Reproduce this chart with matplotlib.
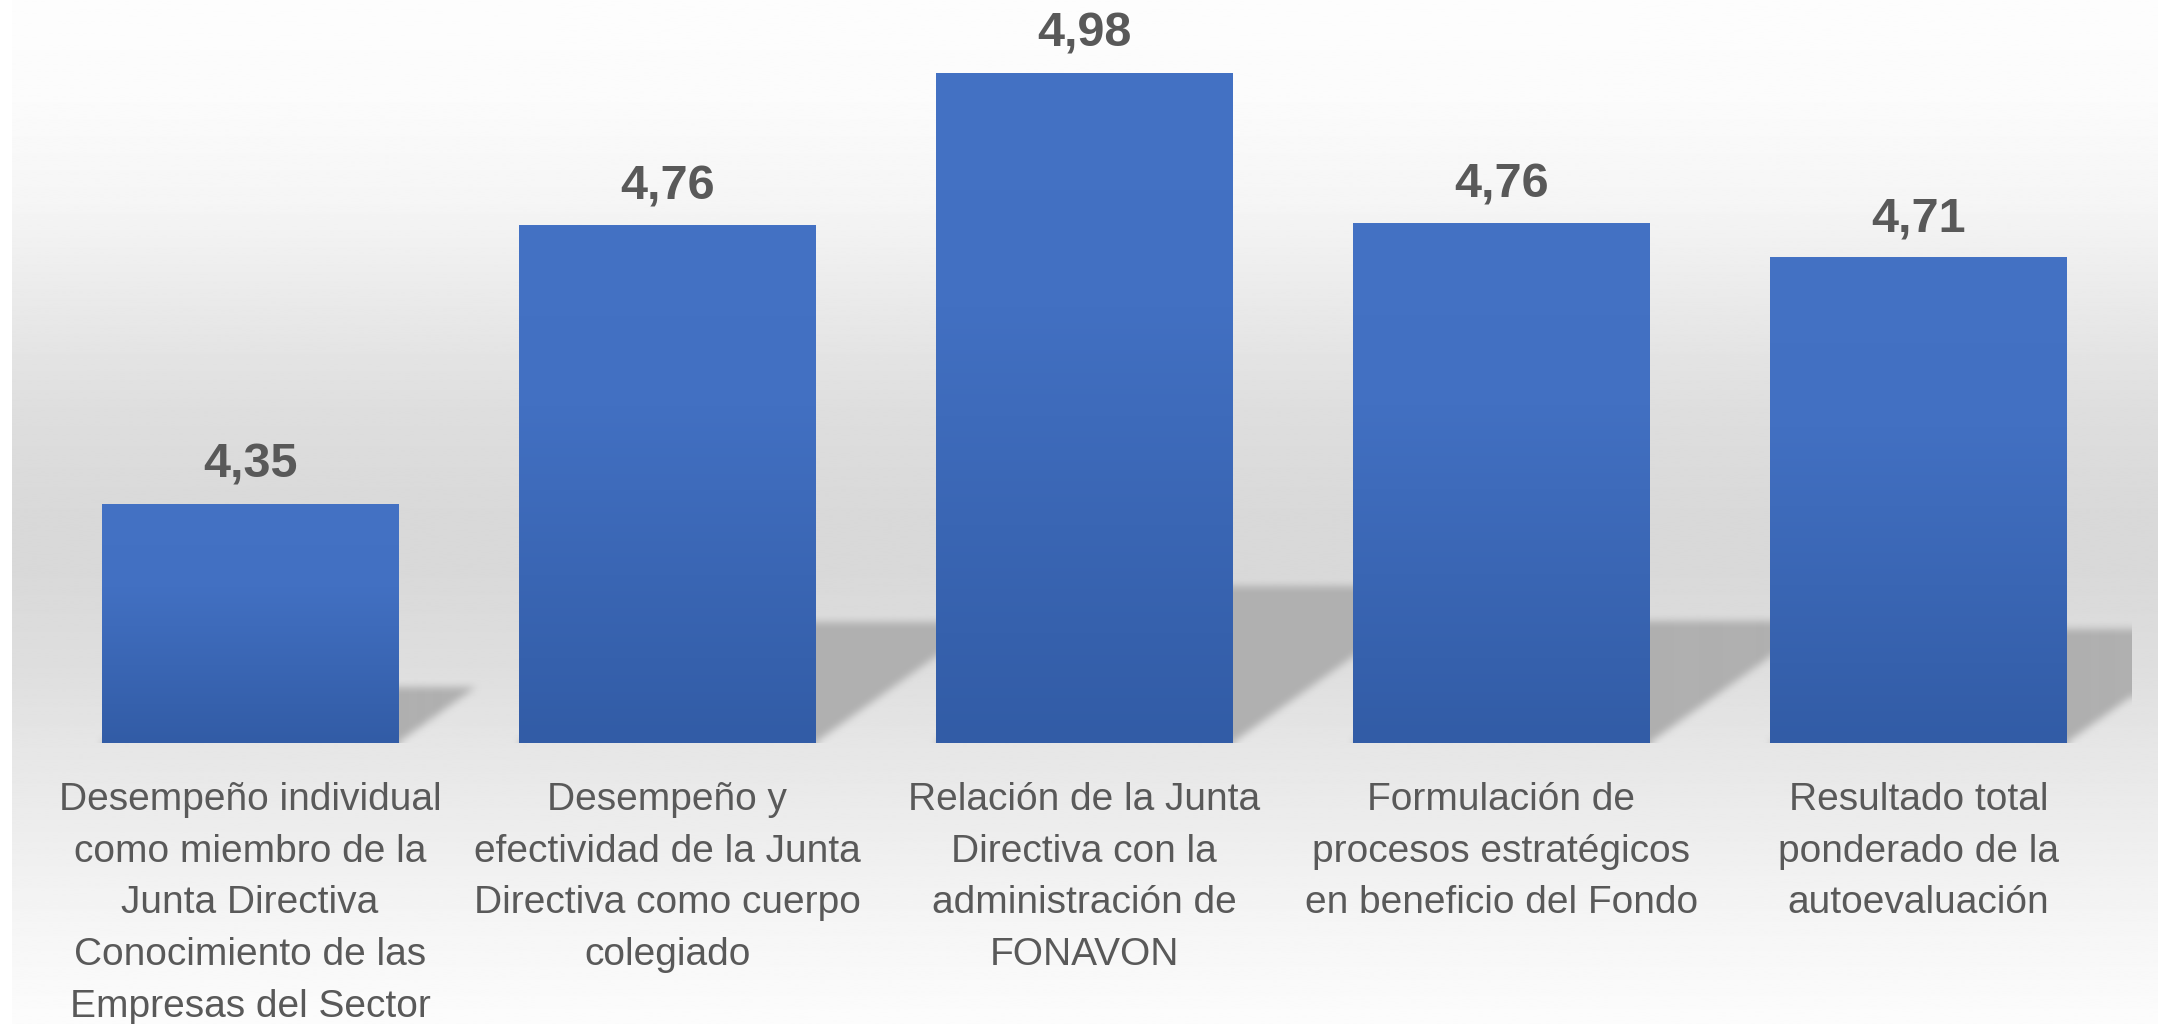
import numpy as np
import matplotlib.pyplot as plt
from matplotlib.colors import LinearSegmentedColormap

categories = [
    "Desempeño individual\ncomo miembro de la\nJunta Directiva\nConocimiento de las\nEmpresas del Sector",
    "Desempeño y\nefectividad de la Junta\nDirectiva como cuerpo\ncolegiado",
    "Relación de la Junta\nDirectiva con la\nadministración de\nFONAVON",
    "Formulación de\nprocesos estratégicos\nen beneficio del Fondo",
    "Resultado total\nponderado de la\nautoevaluación",
]
values = [4.35, 4.757, 4.98, 4.76, 4.71]

W, H = 2167, 1024
fig = plt.figure(figsize=(W / 100, H / 100), dpi=100)
fig.patch.set_facecolor('white')

# fondo degradado (blanco -> gris -> blanco)
bg = fig.add_axes([12 / W, 0, (2158 - 12) / W, 1])
pos = [0.0, 0.1, 0.2, 0.3, 0.4, 0.5, 0.56, 0.65, 0.73, 0.8, 0.9, 1.0]
lev = [253, 251, 245, 233, 222, 217, 217, 222, 230, 236, 245, 252]
g = np.interp(np.linspace(0, 1, 600), pos, lev)
bg.imshow(np.repeat(g[:, None], 2, axis=1), cmap='gray', vmin=0, vmax=255,
          aspect='auto', extent=[0, 1, 0, 1], interpolation='bilinear')
bg.axis('off')

ax_l, ax_r, ax_b = 41.5, 2131, 743
ax = fig.add_axes([ax_l / W, 1 - ax_b / H, (ax_r - ax_l) / W, ax_b / H])
ax.set_xlim(-0.5, 4.51)
ax.set_ylim(4, 4 + ax_b / 684)
ax.axis('off')

x = np.arange(len(values))
bw = 0.71

# sombras en perspectiva (raster difuminado)
wpx, hpx = int(ax_r - ax_l), ax_b
mask = np.zeros((hpx, wpx))
xmin, xmax = ax.get_xlim()
ymin, ymax = ax.get_ylim()
for xi, v in zip(x, values):
    xl = (xi - bw / 2 - xmin) / (xmax - xmin) * wpx
    xr = (xi + bw / 2 - xmin) / (xmax - xmin) * wpx
    hb = (v - ymin) / (ymax - ymin) * hpx
    sh = int(0.235 * hb)
    for r in range(sh):
        a, b = int(xl + 1.4 * r), int(min(xr + 1.4 * r, wpx))
        mask[r, a:b] = 1


def box(m, k, axis):
    c = np.cumsum(np.pad(m, [(k, k), (0, 0)] if axis == 0 else [(0, 0), (k, k)], mode='edge'), axis=axis)
    if axis == 0:
        c = np.vstack([np.zeros((1, c.shape[1])), c])
        return (c[2 * k + 1:] - c[:-2 * k - 1]) / (2 * k + 1)
    c = np.hstack([np.zeros((c.shape[0], 1)), c])
    return (c[:, 2 * k + 1:] - c[:, :-2 * k - 1]) / (2 * k + 1)


for _ in range(2):
    mask = box(mask, 4, 0)
    mask = box(mask, 4, 1)
rgba = np.zeros((hpx, wpx, 4))
rgba[..., :3] = 176 / 255
rgba[..., 3] = mask
ax.imshow(rgba, origin='lower', extent=[xmin, xmax, ymin, ymax], aspect='auto', zorder=1)

# barras con degradado
cmap = LinearSegmentedColormap.from_list(
    'azul', [(0.0, '#325ca6'), (0.65, '#4270c2'), (1.0, '#4472c4')])
grad = np.linspace(0, 1, 256)[:, None]
bars = ax.bar(x, [v - 4 for v in values], width=bw, bottom=4, color='#4472c4', zorder=2)
for b, xi, v in zip(bars, x, values):
    im = ax.imshow(grad, cmap=cmap, origin='lower', aspect='auto',
                   extent=[xi - bw / 2, xi + bw / 2, 4, v], zorder=3)
    im.set_clip_path(b)
ax.set_xlim(xmin, xmax)
ax.set_ylim(ymin, ymax)

for xi, v in zip(x, values):
    ax.annotate(f"{v:.2f}".replace('.', ','), (xi, v), xytext=(0, 18.7),
                textcoords='offset points', ha='center', va='baseline',
                fontsize=35, fontweight='bold', color='#595959',
                family='Liberation Sans', annotation_clip=False)

for xi, lab in zip(x, categories):
    ax.text(xi, -39 / ax_b, lab, transform=ax.get_xaxis_transform(),
            ha='center', va='top', multialignment='center', fontsize=28,
            linespacing=1.56, color='#595959', family='Liberation Sans')

fig.savefig('out.png', dpi=100)
